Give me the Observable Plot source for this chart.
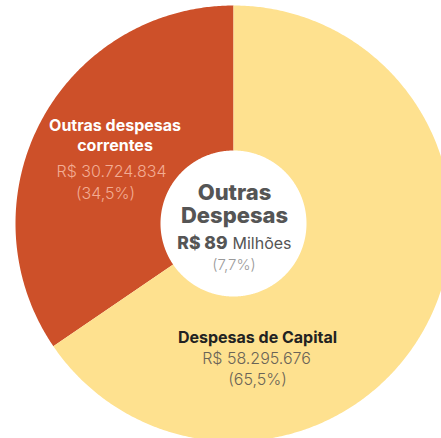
<!DOCTYPE html>
<html><head><meta charset="utf-8">
<script src="https://cdn.jsdelivr.net/npm/d3@7"></script>
<script src="https://cdn.jsdelivr.net/npm/@observablehq/plot@0.6"></script>
<style>html,body{margin:0;padding:0;background:#fff}#chart svg{display:block}</style>
</head><body><div id="chart"></div>
<script>
// ---- data ----
const categories = ["Outras despesas correntes", "Despesas de Capital"];
const values = [30724834, 58295676];
const valueLabels = ["R$ 30.724.834", "R$ 58.295.676"];
const shareLabels = ["(34,5%)", "(65,5%)"];
const sliceColors = ["#CD5029", "#FEE18F"];
const totalTitle = ["Outras", "Despesas"];
const totalValue = "R$ 89";
const totalUnit = "Milhões";
const totalShare = "(7,7%)";

// ---- geometry ----
const W = 441, H = 438, cx = 233, cy = 223, R0 = 73, R1 = 218;
const total = d3.sum(values);
const redFrac = values[0] / total;
const pie = d3.pie().sort(null)
  .startAngle(-redFrac * 2 * Math.PI)
  .endAngle(2 * Math.PI - redFrac * 2 * Math.PI);
const arcs = pie(values);
const pts = [];
arcs.forEach((a, i) => {
  const n = Math.max(8, Math.ceil((a.endAngle - a.startAngle) / (Math.PI / 360)));
  const poly = [];
  for (let k = 0; k <= n; k++) {
    const t = a.startAngle + (a.endAngle - a.startAngle) * k / n;
    poly.push([R1 * Math.sin(t), R1 * Math.cos(t)]);
  }
  for (let k = n; k >= 0; k--) {
    const t = a.startAngle + (a.endAngle - a.startAngle) * k / n;
    poly.push([R0 * Math.sin(t), R0 * Math.cos(t)]);
  }
  poly.push(poly[0]);
  poly.forEach(([x, y]) => pts.push({cat: categories[i], x, y}));
});

const T = (txt, px, py, o) => Plot.text([txt], {
  x: px - cx, y: cy - py, text: d => d, textAnchor: "middle", lineAnchor: "bottom", ...o
});

const chart = Plot.plot({
  width: W, height: H, margin: 0,
  x: {domain: [-cx, W - cx], axis: null},
  y: {domain: [cy - H, cy], axis: null},
  color: {domain: categories, range: sliceColors},
  style: {fontFamily: "Inter, 'Open Sans', sans-serif", background: "#fff"},
  marks: [
    Plot.line(pts, {x: "x", y: "y", z: "cat", fill: "cat", stroke: null, curve: "linear", clip: true}),
    // red slice label
    T(categories[0].split(" ").slice(0, 2).join(" ") + "\n" + categories[0].split(" ")[2], 114.5, 150,
      {fill: "#fff", fontSize: 16, fontWeight: 700, lineHeight: 1.25}),
    T(valueLabels[0], 111, 176, {fill: "#F2AC93", fontSize: 16, fontWeight: 300}),
    T(shareLabels[0], 105, 198, {fill: "#F2AC93", fontSize: 16, fontWeight: 300}),
    // capital label
    T(categories[1], 257, 342, {fill: "#222", fontSize: 16, fontWeight: 700}),
    T(valueLabels[1], 256, 363, {fill: "#6b6457", fontSize: 16, fontWeight: 300}),
    T(shareLabels[1], 257, 384, {fill: "#6b6457", fontSize: 16, fontWeight: 300}),
    // center
    T(totalTitle.join("\n"), 234, 222, {fill: "#555", fontSize: 22, fontWeight: 800, lineHeight: 1.045}),
    T(totalValue, 227, 248, {fill: "#555", fontSize: 17.5, fontWeight: 800, textAnchor: "end"}),
    T(totalUnit, 232, 248, {fill: "#555", fontSize: 16, fontWeight: 400, textAnchor: "start"}),
    T(totalShare, 233.5, 269, {fill: "#9a9a9a", fontSize: 15, fontWeight: 300})
  ]
});
document.getElementById("chart").append(chart);
</script>
</body></html>
